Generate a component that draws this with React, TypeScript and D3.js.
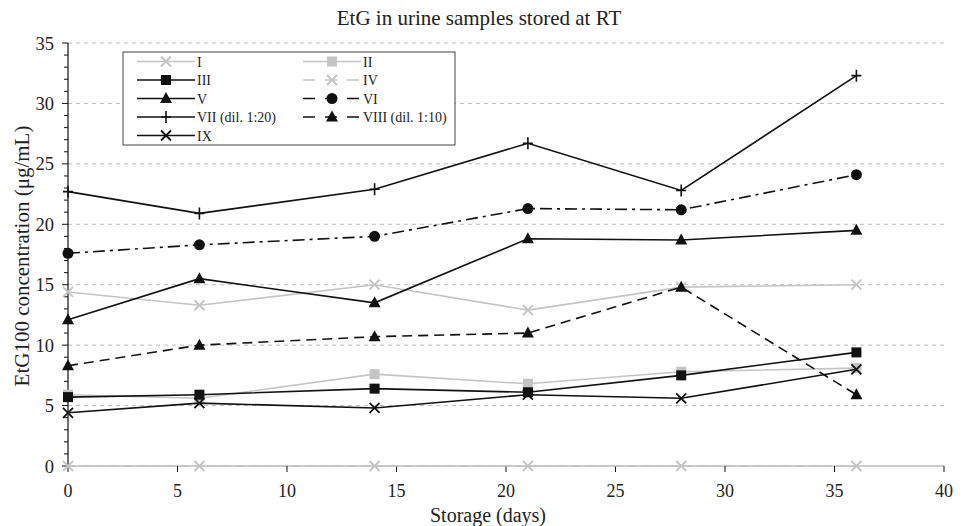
import React from "react";
import * as d3 from "d3";

const days = [0, 6, 14, 21, 28, 36];
const seriesNames = ["I", "II", "III", "IV", "V", "VI", "VII (dil. 1:20)", "VIII (dil. 1:10)", "IX"];
const valsI = [14.4, 13.3, 15.0, 12.9, 14.8, 15.0];
const valsII = [5.9, 5.6, 7.6, 6.8, 7.8, 8.1];
const valsIII = [5.7, 5.9, 6.4, 6.1, 7.5, 9.4];
const valsIV = [0, 0, 0, 0, 0, 0];
const valsV = [12.1, 15.5, 13.5, 18.8, 18.7, 19.5];
const valsVI = [17.6, 18.3, 19.0, 21.3, 21.2, 24.1];
const valsVII = [22.7, 20.9, 22.9, 26.7, 22.8, 32.3];
const valsVIII = [8.3, 10.0, 10.7, 11.0, 14.8, 5.9];
const valsIX = [4.4, 5.2, 4.8, 5.9, 5.6, 8.0];
const xTicks = [0, 5, 10, 15, 20, 25, 30, 35, 40];
const yTicks = [0, 5, 10, 15, 20, 25, 30, 35];

const W = 968;
const H = 526;
const M = { left: 68, right: 24, top: 43, bottom: 60 };

const GRAY = "#c4c4c4";
const BLACK = "#111";

type Style = { color: string; dash: string | null; marker: string };
const styles: Style[] = [
  { color: GRAY, dash: null, marker: "x" },
  { color: GRAY, dash: null, marker: "square" },
  { color: BLACK, dash: null, marker: "square" },
  { color: GRAY, dash: "8,6", marker: "x" },
  { color: BLACK, dash: null, marker: "triangle" },
  { color: BLACK, dash: "12,5,3,5", marker: "circle" },
  { color: BLACK, dash: null, marker: "plus" },
  { color: BLACK, dash: "10,6", marker: "triangle" },
  { color: BLACK, dash: null, marker: "x" },
];
const allVals = [valsI, valsII, valsIII, valsIV, valsV, valsVI, valsVII, valsVIII, valsIX];

const Marker = ({ x, y, kind, color }: { x: number; y: number; kind: string; color: string }) => {
  if (kind === "square") return <rect x={x - 5} y={y - 5} width={10} height={10} fill={color} />;
  if (kind === "circle") return <circle cx={x} cy={y} r={5.5} fill={color} />;
  if (kind === "triangle")
    return <path d={`M${x},${y - 6.5}L${x + 6},${y + 4.5}L${x - 6},${y + 4.5}Z`} fill={color} />;
  if (kind === "plus")
    return <path d={`M${x - 5},${y}H${x + 5}M${x},${y - 6}V${y + 6}`} stroke={color} strokeWidth={1.6} />;
  return <path d={`M${x - 5},${y - 5}L${x + 5},${y + 5}M${x - 5},${y + 5}L${x + 5},${y - 5}`} stroke={color} strokeWidth={1.8} />;
};

const App = () => {
  const x = d3.scaleLinear().domain([0, 40]).range([M.left, W - M.right]);
  const y = d3.scaleLinear().domain([0, 35]).range([H - M.bottom, M.top]);
  const line = d3.line<number>().x((_, i) => x(days[i])).y((d) => y(d));
  const minor = d3.range(0, 36, 1).filter((v) => v % 5 !== 0);
  const font = "'Liberation Serif', 'Times New Roman', serif";

  const legX = 123, legY = 52, legW = 332, legH = 93;
  const rowH = 18.5;

  return (
    <svg width={W} height={H} style={{ position: "absolute", left: 0, top: 0, background: "#fff" }} fontFamily={font}>
      <text x={479} y={25} textAnchor="middle" fontSize={21} fill="#222">EtG in urine samples stored at RT</text>
      {yTicks.filter((t) => t > 0).map((t) => (
        <line key={t} x1={x(0)} x2={x(40)} y1={y(t)} y2={y(t)} stroke="#bbb" strokeDasharray="4,4" />
      ))}
      <line x1={x(0)} x2={x(40)} y1={y(0)} y2={y(0)} stroke="#999" strokeWidth={1} />
      <line x1={x(0)} x2={x(0)} y1={y(0)} y2={y(35)} stroke={BLACK} strokeWidth={1.2} />
      {yTicks.map((t) => (
        <g key={t}>
          <line x1={x(0) - 6} x2={x(0)} y1={y(t)} y2={y(t)} stroke={BLACK} />
          <text x={54} y={y(t) + 6.5} textAnchor="end" fontSize={18.5} fill="#222">{t}</text>
        </g>
      ))}
      {minor.map((t) => (
        <line key={t} x1={x(0) - 4} x2={x(0)} y1={y(t)} y2={y(t)} stroke={BLACK} />
      ))}
      {xTicks.map((t) => (
        <g key={t}>
          <line x1={x(t)} x2={x(t)} y1={y(0)} y2={y(0) + 6} stroke={BLACK} />
          <text x={x(t)} y={497} textAnchor="middle" fontSize={18} fill="#222">{t}</text>
        </g>
      ))}
      <text x={488} y={522} textAnchor="middle" fontSize={20} fill="#222">Storage (days)</text>
      <text transform={`translate(29, ${256}) rotate(-90)`} textAnchor="middle" fontSize={21} fill="#222">EtG100 concentration (μg/mL)</text>

      {allVals.map((vals, si) => (
        <g key={si}>
          <path d={line(vals) || ""} fill="none" stroke={styles[si].color} strokeWidth={1.6}
            strokeDasharray={styles[si].dash || undefined} />
          {vals.map((v, i) => (
            <Marker key={i} x={x(days[i])} y={y(v)} kind={styles[si].marker} color={styles[si].color} />
          ))}
        </g>
      ))}

      <rect x={legX} y={legY} width={legW} height={legH} fill="#fff" stroke="#444" strokeWidth={1} />
      {seriesNames.map((name, i) => {
        const col = i % 2;
        const row = Math.floor(i / 2);
        const lx = col === 0 ? 137 : 303;
        const ly = legY + 9.5 + row * rowH;
        const st = styles[i];
        const dashLeg = st.dash ? "12,10" : undefined;
        return (
          <g key={name}>
            <line x1={lx} x2={lx + 58} y1={ly} y2={ly} stroke={st.color} strokeWidth={1.6} strokeDasharray={dashLeg} />
            <Marker x={lx + 29} y={ly} kind={st.marker} color={st.color} />
            <text x={lx + 60} y={ly + 5} fontSize={14} fill="#222">{name}</text>
          </g>
        );
      })}
    </svg>
  );
};

export default App;
